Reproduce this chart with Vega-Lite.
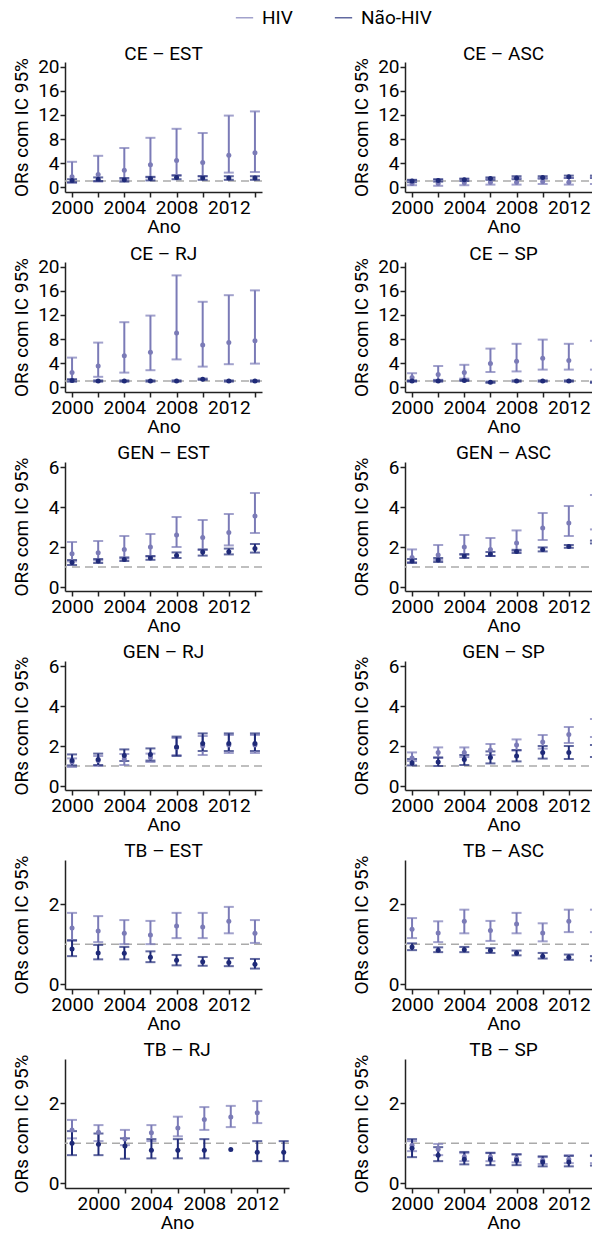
{
"$schema": "https://vega.github.io/schema/vega-lite/v6.json",
"padding": {"left": 11, "top": 8, "right": 0, "bottom": 0},
"background": "white",
"datasets": {
"ref": [{"v": 1}],
"d": [
{"p":"CE – EST","g":"HIV","ano":2000,"or":1.7,"lo":0.7,"hi":4.2},
{"p":"CE – EST","g":"HIV","ano":2002,"or":2.1,"lo":0.9,"hi":5.2},
{"p":"CE – EST","g":"HIV","ano":2004,"or":2.8,"lo":1.2,"hi":6.5},
{"p":"CE – EST","g":"HIV","ano":2006,"or":3.7,"lo":1.6,"hi":8.2},
{"p":"CE – EST","g":"HIV","ano":2008,"or":4.4,"lo":2.0,"hi":9.7},
{"p":"CE – EST","g":"HIV","ano":2010,"or":4.1,"lo":1.8,"hi":9.0},
{"p":"CE – EST","g":"HIV","ano":2012,"or":5.3,"lo":2.4,"hi":11.9},
{"p":"CE – EST","g":"HIV","ano":2014,"or":5.7,"lo":2.5,"hi":12.6},
{"p":"CE – EST","g":"Não-HIV","ano":2000,"or":1.1,"lo":0.8,"hi":1.3},
{"p":"CE – EST","g":"Não-HIV","ano":2002,"or":1.3,"lo":1.0,"hi":1.6},
{"p":"CE – EST","g":"Não-HIV","ano":2004,"or":1.2,"lo":0.9,"hi":1.5},
{"p":"CE – EST","g":"Não-HIV","ano":2006,"or":1.4,"lo":1.1,"hi":1.7},
{"p":"CE – EST","g":"Não-HIV","ano":2008,"or":1.6,"lo":1.3,"hi":1.9},
{"p":"CE – EST","g":"Não-HIV","ano":2010,"or":1.5,"lo":1.2,"hi":1.8},
{"p":"CE – EST","g":"Não-HIV","ano":2012,"or":1.5,"lo":1.2,"hi":1.8},
{"p":"CE – EST","g":"Não-HIV","ano":2014,"or":1.5,"lo":1.2,"hi":1.8},
{"p":"CE – ASC","g":"HIV","ano":2000,"or":0.6,"lo":0.3,"hi":1.1},
{"p":"CE – ASC","g":"HIV","ano":2002,"or":0.6,"lo":0.2,"hi":1.2},
{"p":"CE – ASC","g":"HIV","ano":2004,"or":0.7,"lo":0.3,"hi":1.3},
{"p":"CE – ASC","g":"HIV","ano":2006,"or":0.8,"lo":0.4,"hi":1.4},
{"p":"CE – ASC","g":"HIV","ano":2008,"or":0.8,"lo":0.4,"hi":1.5},
{"p":"CE – ASC","g":"HIV","ano":2010,"or":0.9,"lo":0.5,"hi":1.5},
{"p":"CE – ASC","g":"HIV","ano":2012,"or":0.8,"lo":0.4,"hi":1.5},
{"p":"CE – ASC","g":"HIV","ano":2014,"or":0.9,"lo":0.5,"hi":1.6},
{"p":"CE – ASC","g":"Não-HIV","ano":2000,"or":1.0,"lo":0.8,"hi":1.2},
{"p":"CE – ASC","g":"Não-HIV","ano":2002,"or":1.1,"lo":0.9,"hi":1.3},
{"p":"CE – ASC","g":"Não-HIV","ano":2004,"or":1.2,"lo":1.0,"hi":1.4},
{"p":"CE – ASC","g":"Não-HIV","ano":2006,"or":1.4,"lo":1.2,"hi":1.6},
{"p":"CE – ASC","g":"Não-HIV","ano":2008,"or":1.5,"lo":1.3,"hi":1.8},
{"p":"CE – ASC","g":"Não-HIV","ano":2010,"or":1.6,"lo":1.4,"hi":1.8},
{"p":"CE – ASC","g":"Não-HIV","ano":2012,"or":1.7,"lo":1.5,"hi":1.9},
{"p":"CE – ASC","g":"Não-HIV","ano":2014,"or":1.7,"lo":1.5,"hi":1.9},
{"p":"CE – RJ","g":"HIV","ano":2000,"or":2.4,"lo":1.2,"hi":4.9},
{"p":"CE – RJ","g":"HIV","ano":2002,"or":3.5,"lo":1.7,"hi":7.4},
{"p":"CE – RJ","g":"HIV","ano":2004,"or":5.2,"lo":2.4,"hi":10.8},
{"p":"CE – RJ","g":"HIV","ano":2006,"or":5.8,"lo":2.8,"hi":11.9},
{"p":"CE – RJ","g":"HIV","ano":2008,"or":9.0,"lo":4.6,"hi":18.6},
{"p":"CE – RJ","g":"HIV","ano":2010,"or":7.0,"lo":3.4,"hi":14.2},
{"p":"CE – RJ","g":"HIV","ano":2012,"or":7.4,"lo":3.8,"hi":15.3},
{"p":"CE – RJ","g":"HIV","ano":2014,"or":7.7,"lo":3.9,"hi":16.1},
{"p":"CE – RJ","g":"Não-HIV","ano":2000,"or":1.1,"lo":0.9,"hi":1.3},
{"p":"CE – RJ","g":"Não-HIV","ano":2002,"or":1.0,"lo":0.9,"hi":1.1},
{"p":"CE – RJ","g":"Não-HIV","ano":2004,"or":1.0,"lo":0.9,"hi":1.1},
{"p":"CE – RJ","g":"Não-HIV","ano":2006,"or":1.0,"lo":0.9,"hi":1.1},
{"p":"CE – RJ","g":"Não-HIV","ano":2008,"or":1.0,"lo":0.9,"hi":1.1},
{"p":"CE – RJ","g":"Não-HIV","ano":2010,"or":1.3,"lo":1.2,"hi":1.4},
{"p":"CE – RJ","g":"Não-HIV","ano":2012,"or":1.0,"lo":0.9,"hi":1.1},
{"p":"CE – RJ","g":"Não-HIV","ano":2014,"or":1.0,"lo":0.9,"hi":1.1},
{"p":"CE – SP","g":"HIV","ano":2000,"or":1.6,"lo":1.0,"hi":2.3},
{"p":"CE – SP","g":"HIV","ano":2002,"or":2.1,"lo":1.2,"hi":3.5},
{"p":"CE – SP","g":"HIV","ano":2004,"or":2.4,"lo":1.4,"hi":3.7},
{"p":"CE – SP","g":"HIV","ano":2006,"or":3.9,"lo":2.5,"hi":6.4},
{"p":"CE – SP","g":"HIV","ano":2008,"or":4.3,"lo":2.6,"hi":7.2},
{"p":"CE – SP","g":"HIV","ano":2010,"or":4.8,"lo":2.9,"hi":7.9},
{"p":"CE – SP","g":"HIV","ano":2012,"or":4.4,"lo":2.9,"hi":7.2},
{"p":"CE – SP","g":"HIV","ano":2014,"or":4.6,"lo":2.9,"hi":7.7},
{"p":"CE – SP","g":"Não-HIV","ano":2000,"or":1.0,"lo":0.9,"hi":1.1},
{"p":"CE – SP","g":"Não-HIV","ano":2002,"or":1.0,"lo":0.9,"hi":1.1},
{"p":"CE – SP","g":"Não-HIV","ano":2004,"or":1.1,"lo":1.0,"hi":1.2},
{"p":"CE – SP","g":"Não-HIV","ano":2006,"or":0.8,"lo":0.7,"hi":0.9},
{"p":"CE – SP","g":"Não-HIV","ano":2008,"or":1.0,"lo":0.9,"hi":1.1},
{"p":"CE – SP","g":"Não-HIV","ano":2010,"or":1.0,"lo":0.9,"hi":1.1},
{"p":"CE – SP","g":"Não-HIV","ano":2012,"or":1.0,"lo":0.9,"hi":1.1},
{"p":"CE – SP","g":"Não-HIV","ano":2014,"or":0.8,"lo":0.7,"hi":0.9},
{"p":"GEN – EST","g":"HIV","ano":2000,"or":1.66,"lo":1.28,"hi":2.25},
{"p":"GEN – EST","g":"HIV","ano":2002,"or":1.71,"lo":1.33,"hi":2.3},
{"p":"GEN – EST","g":"HIV","ano":2004,"or":1.88,"lo":1.42,"hi":2.55},
{"p":"GEN – EST","g":"HIV","ano":2006,"or":2.0,"lo":1.52,"hi":2.65},
{"p":"GEN – EST","g":"HIV","ano":2008,"or":2.6,"lo":2.0,"hi":3.5},
{"p":"GEN – EST","g":"HIV","ano":2010,"or":2.47,"lo":1.85,"hi":3.35},
{"p":"GEN – EST","g":"HIV","ano":2012,"or":2.72,"lo":2.08,"hi":3.65},
{"p":"GEN – EST","g":"HIV","ano":2014,"or":3.55,"lo":2.7,"hi":4.7},
{"p":"GEN – EST","g":"Não-HIV","ano":2000,"or":1.22,"lo":1.1,"hi":1.35},
{"p":"GEN – EST","g":"Não-HIV","ano":2002,"or":1.3,"lo":1.2,"hi":1.4},
{"p":"GEN – EST","g":"Não-HIV","ano":2004,"or":1.38,"lo":1.3,"hi":1.48},
{"p":"GEN – EST","g":"Não-HIV","ano":2006,"or":1.45,"lo":1.36,"hi":1.55},
{"p":"GEN – EST","g":"Não-HIV","ano":2008,"or":1.57,"lo":1.45,"hi":1.73},
{"p":"GEN – EST","g":"Não-HIV","ano":2010,"or":1.75,"lo":1.57,"hi":1.88},
{"p":"GEN – EST","g":"Não-HIV","ano":2012,"or":1.76,"lo":1.63,"hi":1.92},
{"p":"GEN – EST","g":"Não-HIV","ano":2014,"or":1.92,"lo":1.72,"hi":2.15},
{"p":"GEN – ASC","g":"HIV","ano":2000,"or":1.47,"lo":1.25,"hi":1.88},
{"p":"GEN – ASC","g":"HIV","ano":2002,"or":1.6,"lo":1.35,"hi":2.1},
{"p":"GEN – ASC","g":"HIV","ano":2004,"or":2.0,"lo":1.6,"hi":2.6},
{"p":"GEN – ASC","g":"HIV","ano":2006,"or":1.88,"lo":1.55,"hi":2.45},
{"p":"GEN – ASC","g":"HIV","ano":2008,"or":2.2,"lo":1.8,"hi":2.83},
{"p":"GEN – ASC","g":"HIV","ano":2010,"or":2.95,"lo":2.35,"hi":3.7},
{"p":"GEN – ASC","g":"HIV","ano":2012,"or":3.2,"lo":2.55,"hi":4.05},
{"p":"GEN – ASC","g":"HIV","ano":2014,"or":3.7,"lo":2.88,"hi":4.6},
{"p":"GEN – ASC","g":"Não-HIV","ano":2000,"or":1.3,"lo":1.2,"hi":1.4},
{"p":"GEN – ASC","g":"Não-HIV","ano":2002,"or":1.35,"lo":1.25,"hi":1.45},
{"p":"GEN – ASC","g":"Não-HIV","ano":2004,"or":1.55,"lo":1.45,"hi":1.65},
{"p":"GEN – ASC","g":"Não-HIV","ano":2006,"or":1.65,"lo":1.55,"hi":1.75},
{"p":"GEN – ASC","g":"Não-HIV","ano":2008,"or":1.78,"lo":1.7,"hi":1.86},
{"p":"GEN – ASC","g":"Não-HIV","ano":2010,"or":1.88,"lo":1.78,"hi":1.98},
{"p":"GEN – ASC","g":"Não-HIV","ano":2012,"or":2.03,"lo":1.96,"hi":2.1},
{"p":"GEN – ASC","g":"Não-HIV","ano":2014,"or":2.25,"lo":2.18,"hi":2.32},
{"p":"GEN – RJ","g":"HIV","ano":2000,"or":1.2,"lo":0.95,"hi":1.38},
{"p":"GEN – RJ","g":"HIV","ano":2002,"or":1.28,"lo":1.0,"hi":1.5},
{"p":"GEN – RJ","g":"HIV","ano":2004,"or":1.35,"lo":1.05,"hi":1.6},
{"p":"GEN – RJ","g":"HIV","ano":2006,"or":1.42,"lo":1.2,"hi":1.62},
{"p":"GEN – RJ","g":"HIV","ano":2008,"or":1.92,"lo":1.55,"hi":2.4},
{"p":"GEN – RJ","g":"HIV","ano":2010,"or":2.0,"lo":1.55,"hi":2.5},
{"p":"GEN – RJ","g":"HIV","ano":2012,"or":2.05,"lo":1.65,"hi":2.55},
{"p":"GEN – RJ","g":"HIV","ano":2014,"or":2.05,"lo":1.65,"hi":2.55},
{"p":"GEN – RJ","g":"Não-HIV","ano":2000,"or":1.27,"lo":1.03,"hi":1.58},
{"p":"GEN – RJ","g":"Não-HIV","ano":2002,"or":1.32,"lo":1.05,"hi":1.62},
{"p":"GEN – RJ","g":"Não-HIV","ano":2004,"or":1.52,"lo":1.25,"hi":1.83},
{"p":"GEN – RJ","g":"Não-HIV","ano":2006,"or":1.57,"lo":1.27,"hi":1.88},
{"p":"GEN – RJ","g":"Não-HIV","ano":2008,"or":1.95,"lo":1.5,"hi":2.47},
{"p":"GEN – RJ","g":"Não-HIV","ano":2010,"or":2.13,"lo":1.75,"hi":2.63},
{"p":"GEN – RJ","g":"Não-HIV","ano":2012,"or":2.12,"lo":1.75,"hi":2.63},
{"p":"GEN – RJ","g":"Não-HIV","ano":2014,"or":2.12,"lo":1.75,"hi":2.63},
{"p":"GEN – SP","g":"HIV","ano":2000,"or":1.4,"lo":1.25,"hi":1.68},
{"p":"GEN – SP","g":"HIV","ano":2002,"or":1.68,"lo":1.4,"hi":1.93},
{"p":"GEN – SP","g":"HIV","ano":2004,"or":1.68,"lo":1.45,"hi":1.93},
{"p":"GEN – SP","g":"HIV","ano":2006,"or":1.8,"lo":1.55,"hi":2.1},
{"p":"GEN – SP","g":"HIV","ano":2008,"or":2.05,"lo":1.77,"hi":2.33},
{"p":"GEN – SP","g":"HIV","ano":2010,"or":2.2,"lo":1.87,"hi":2.55},
{"p":"GEN – SP","g":"HIV","ano":2012,"or":2.57,"lo":2.15,"hi":2.95},
{"p":"GEN – SP","g":"HIV","ano":2014,"or":2.83,"lo":2.45,"hi":3.35},
{"p":"GEN – SP","g":"Não-HIV","ano":2000,"or":1.15,"lo":1.03,"hi":1.35},
{"p":"GEN – SP","g":"Não-HIV","ano":2002,"or":1.2,"lo":1.0,"hi":1.43},
{"p":"GEN – SP","g":"Não-HIV","ano":2004,"or":1.32,"lo":1.05,"hi":1.55},
{"p":"GEN – SP","g":"Não-HIV","ano":2006,"or":1.43,"lo":1.13,"hi":1.73},
{"p":"GEN – SP","g":"Não-HIV","ano":2008,"or":1.5,"lo":1.23,"hi":1.8},
{"p":"GEN – SP","g":"Não-HIV","ano":2010,"or":1.67,"lo":1.37,"hi":2.0},
{"p":"GEN – SP","g":"Não-HIV","ano":2012,"or":1.67,"lo":1.35,"hi":2.0},
{"p":"GEN – SP","g":"Não-HIV","ano":2014,"or":1.75,"lo":1.45,"hi":2.05},
{"p":"TB – EST","g":"HIV","ano":2000,"or":1.4,"lo":1.08,"hi":1.78},
{"p":"TB – EST","g":"HIV","ano":2002,"or":1.33,"lo":1.05,"hi":1.7},
{"p":"TB – EST","g":"HIV","ano":2004,"or":1.27,"lo":1.0,"hi":1.6},
{"p":"TB – EST","g":"HIV","ano":2006,"or":1.23,"lo":1.0,"hi":1.58},
{"p":"TB – EST","g":"HIV","ano":2008,"or":1.45,"lo":1.15,"hi":1.78},
{"p":"TB – EST","g":"HIV","ano":2010,"or":1.43,"lo":1.15,"hi":1.78},
{"p":"TB – EST","g":"HIV","ano":2012,"or":1.57,"lo":1.27,"hi":1.93},
{"p":"TB – EST","g":"HIV","ano":2014,"or":1.27,"lo":1.03,"hi":1.6},
{"p":"TB – EST","g":"Não-HIV","ano":2000,"or":0.88,"lo":0.7,"hi":1.1},
{"p":"TB – EST","g":"Não-HIV","ano":2002,"or":0.78,"lo":0.62,"hi":0.98},
{"p":"TB – EST","g":"Não-HIV","ano":2004,"or":0.77,"lo":0.62,"hi":0.93},
{"p":"TB – EST","g":"Não-HIV","ano":2006,"or":0.67,"lo":0.55,"hi":0.82},
{"p":"TB – EST","g":"Não-HIV","ano":2008,"or":0.6,"lo":0.47,"hi":0.73},
{"p":"TB – EST","g":"Não-HIV","ano":2010,"or":0.56,"lo":0.46,"hi":0.68},
{"p":"TB – EST","g":"Não-HIV","ano":2012,"or":0.54,"lo":0.45,"hi":0.65},
{"p":"TB – EST","g":"Não-HIV","ano":2014,"or":0.5,"lo":0.39,"hi":0.63},
{"p":"TB – ASC","g":"HIV","ano":2000,"or":1.37,"lo":1.15,"hi":1.65},
{"p":"TB – ASC","g":"HIV","ano":2002,"or":1.28,"lo":1.05,"hi":1.57},
{"p":"TB – ASC","g":"HIV","ano":2004,"or":1.57,"lo":1.27,"hi":1.86},
{"p":"TB – ASC","g":"HIV","ano":2006,"or":1.34,"lo":1.08,"hi":1.58},
{"p":"TB – ASC","g":"HIV","ano":2008,"or":1.5,"lo":1.27,"hi":1.78},
{"p":"TB – ASC","g":"HIV","ano":2010,"or":1.28,"lo":1.07,"hi":1.52},
{"p":"TB – ASC","g":"HIV","ano":2012,"or":1.57,"lo":1.3,"hi":1.86},
{"p":"TB – ASC","g":"HIV","ano":2014,"or":1.57,"lo":1.3,"hi":1.86},
{"p":"TB – ASC","g":"Não-HIV","ano":2000,"or":0.93,"lo":0.85,"hi":1.02},
{"p":"TB – ASC","g":"Não-HIV","ano":2002,"or":0.85,"lo":0.8,"hi":0.92},
{"p":"TB – ASC","g":"Não-HIV","ano":2004,"or":0.86,"lo":0.8,"hi":0.93},
{"p":"TB – ASC","g":"Não-HIV","ano":2006,"or":0.84,"lo":0.78,"hi":0.9},
{"p":"TB – ASC","g":"Não-HIV","ano":2008,"or":0.78,"lo":0.72,"hi":0.84},
{"p":"TB – ASC","g":"Não-HIV","ano":2010,"or":0.7,"lo":0.64,"hi":0.78},
{"p":"TB – ASC","g":"Não-HIV","ano":2012,"or":0.67,"lo":0.61,"hi":0.74},
{"p":"TB – ASC","g":"Não-HIV","ano":2014,"or":0.64,"lo":0.59,"hi":0.7},
{"p":"TB – RJ","g":"HIV","ano":1998,"or":1.33,"lo":1.12,"hi":1.58},
{"p":"TB – RJ","g":"HIV","ano":2000,"or":1.27,"lo":1.05,"hi":1.45},
{"p":"TB – RJ","g":"HIV","ano":2002,"or":1.1,"lo":0.95,"hi":1.33},
{"p":"TB – RJ","g":"HIV","ano":2004,"or":1.26,"lo":1.05,"hi":1.45},
{"p":"TB – RJ","g":"HIV","ano":2006,"or":1.38,"lo":1.17,"hi":1.66},
{"p":"TB – RJ","g":"HIV","ano":2008,"or":1.59,"lo":1.33,"hi":1.9},
{"p":"TB – RJ","g":"HIV","ano":2010,"or":1.65,"lo":1.4,"hi":1.93},
{"p":"TB – RJ","g":"HIV","ano":2012,"or":1.76,"lo":1.5,"hi":2.05},
{"p":"TB – RJ","g":"Não-HIV","ano":1998,"or":1.0,"lo":0.7,"hi":1.3},
{"p":"TB – RJ","g":"Não-HIV","ano":2000,"or":0.97,"lo":0.7,"hi":1.24},
{"p":"TB – RJ","g":"Não-HIV","ano":2002,"or":0.93,"lo":0.61,"hi":1.12},
{"p":"TB – RJ","g":"Não-HIV","ano":2004,"or":0.82,"lo":0.62,"hi":1.1},
{"p":"TB – RJ","g":"Não-HIV","ano":2006,"or":0.82,"lo":0.62,"hi":1.1},
{"p":"TB – RJ","g":"Não-HIV","ano":2008,"or":0.82,"lo":0.62,"hi":1.1},
{"p":"TB – RJ","g":"Não-HIV","ano":2010,"or":0.84,"lo":null,"hi":null},
{"p":"TB – RJ","g":"Não-HIV","ano":2012,"or":0.77,"lo":0.55,"hi":1.05},
{"p":"TB – RJ","g":"Não-HIV","ano":2014,"or":0.77,"lo":0.55,"hi":1.05},
{"p":"TB – SP","g":"HIV","ano":2000,"or":0.95,"lo":0.8,"hi":1.05},
{"p":"TB – SP","g":"HIV","ano":2002,"or":0.85,"lo":0.7,"hi":0.98},
{"p":"TB – SP","g":"HIV","ano":2004,"or":0.66,"lo":0.55,"hi":0.75},
{"p":"TB – SP","g":"HIV","ano":2006,"or":0.66,"lo":0.55,"hi":0.75},
{"p":"TB – SP","g":"HIV","ano":2008,"or":0.62,"lo":0.52,"hi":0.72},
{"p":"TB – SP","g":"HIV","ano":2010,"or":0.57,"lo":0.48,"hi":0.65},
{"p":"TB – SP","g":"HIV","ano":2012,"or":0.6,"lo":0.5,"hi":0.7},
{"p":"TB – SP","g":"HIV","ano":2014,"or":0.6,"lo":0.5,"hi":0.7},
{"p":"TB – SP","g":"Não-HIV","ano":2000,"or":0.87,"lo":0.65,"hi":1.1},
{"p":"TB – SP","g":"Não-HIV","ano":2002,"or":0.7,"lo":0.55,"hi":0.9},
{"p":"TB – SP","g":"Não-HIV","ano":2004,"or":0.6,"lo":0.47,"hi":0.78},
{"p":"TB – SP","g":"Não-HIV","ano":2006,"or":0.6,"lo":0.45,"hi":0.76},
{"p":"TB – SP","g":"Não-HIV","ano":2008,"or":0.57,"lo":0.45,"hi":0.72},
{"p":"TB – SP","g":"Não-HIV","ano":2010,"or":0.53,"lo":0.42,"hi":0.67},
{"p":"TB – SP","g":"Não-HIV","ano":2012,"or":0.53,"lo":0.42,"hi":0.68},
{"p":"TB – SP","g":"Não-HIV","ano":2014,"or":0.54,"lo":0.44,"hi":0.68}
]
},
"resolve": {"scale": {"color": "shared"}, "legend": {"color": "shared"}},
"spacing": 8,
"vconcat": [
{"spacing": 88, "hconcat": [
{"title":"CE – EST","width":197,"height":130,"layer":[
{"data":{"name":"ref"},"mark":{"type":"rule","color":"#aaaaaa","strokeDash":[8,5],"strokeWidth":1.5},"encoding":{"y":{"field":"v","type":"quantitative"}}},
{"data":{"name":"d"},"transform":[{"filter":"datum.p == 'CE – EST'"}],"mark":{"type":"errorbar","ticks":true,"size":10,"thickness":2},"encoding":{
"x":{"field":"ano","type":"quantitative","title":"Ano","scale":{"domain":[1999.46,2014.54],"nice":false,"zero":false},"axis":{"values":[2000,2002,2004,2006,2008,2010,2012,2014],"tickCount":20,"format":"d","labelExpr":"datum.value % 4 == 0 ? datum.label : ''","labelFlush":false,"labelOverlap":false}},
"y":{"field":"lo","type":"quantitative","title":"ORs com IC 95%","scale":{"domain":[-0.83,20.83],"nice":false,"zero":false},"axis":{"values":[0,4,8,12,16,20],"tickCount":20,"format":"d","labelOverlap":false}},
"y2":{"field":"hi"},
"color":{"field":"g","type":"nominal","scale":{"domain":["HIV","Não-HIV"],"range":["#7b7bb7","#1f2a78"]},"legend":{"title":null,"orient":"none","legendX":170,"legendY":-54,"direction":"horizontal","symbolType":"stroke","symbolSize":300,"symbolStrokeWidth":1.5,"labelFontSize":19,"columnPadding":38,"labelOffset":8}}}},
{"data":{"name":"d"},"transform":[{"filter":"datum.p == 'CE – EST'"}],"mark":{"type":"point","filled":true,"size":25,"opacity":1},"encoding":{
"x":{"field":"ano","type":"quantitative","title":"Ano","scale":{"domain":[1999.46,2014.54],"nice":false,"zero":false}},
"y":{"field":"or","type":"quantitative","title":"ORs com IC 95%","scale":{"domain":[-0.83,20.83],"nice":false,"zero":false}},
"color":{"field":"g","type":"nominal","legend":null}}}
]},
{"title":"CE – ASC","width":197,"height":130,"layer":[
{"data":{"name":"ref"},"mark":{"type":"rule","color":"#aaaaaa","strokeDash":[8,5],"strokeWidth":1.5},"encoding":{"y":{"field":"v","type":"quantitative"}}},
{"data":{"name":"d"},"transform":[{"filter":"datum.p == 'CE – ASC'"}],"mark":{"type":"errorbar","ticks":true,"size":10,"thickness":2},"encoding":{
"x":{"field":"ano","type":"quantitative","title":"Ano","scale":{"domain":[1999.46,2014.54],"nice":false,"zero":false},"axis":{"values":[2000,2002,2004,2006,2008,2010,2012,2014],"tickCount":20,"format":"d","labelExpr":"datum.value % 4 == 0 ? datum.label : ''","labelFlush":false,"labelOverlap":false}},
"y":{"field":"lo","type":"quantitative","title":"ORs com IC 95%","scale":{"domain":[-0.83,20.83],"nice":false,"zero":false},"axis":{"values":[0,4,8,12,16,20],"tickCount":20,"format":"d","labelOverlap":false}},
"y2":{"field":"hi"},
"color":{"field":"g","type":"nominal"}}},
{"data":{"name":"d"},"transform":[{"filter":"datum.p == 'CE – ASC'"}],"mark":{"type":"point","filled":true,"size":25,"opacity":1},"encoding":{
"x":{"field":"ano","type":"quantitative","title":"Ano","scale":{"domain":[1999.46,2014.54],"nice":false,"zero":false}},
"y":{"field":"or","type":"quantitative","title":"ORs com IC 95%","scale":{"domain":[-0.83,20.83],"nice":false,"zero":false}},
"color":{"field":"g","type":"nominal","legend":null}}}
]}
]},
{"spacing": 88, "hconcat": [
{"title":"CE – RJ","width":197,"height":130,"layer":[
{"data":{"name":"ref"},"mark":{"type":"rule","color":"#aaaaaa","strokeDash":[8,5],"strokeWidth":1.5},"encoding":{"y":{"field":"v","type":"quantitative"}}},
{"data":{"name":"d"},"transform":[{"filter":"datum.p == 'CE – RJ'"}],"mark":{"type":"errorbar","ticks":true,"size":10,"thickness":2},"encoding":{
"x":{"field":"ano","type":"quantitative","title":"Ano","scale":{"domain":[1999.46,2014.54],"nice":false,"zero":false},"axis":{"values":[2000,2002,2004,2006,2008,2010,2012,2014],"tickCount":20,"format":"d","labelExpr":"datum.value % 4 == 0 ? datum.label : ''","labelFlush":false,"labelOverlap":false}},
"y":{"field":"lo","type":"quantitative","title":"ORs com IC 95%","scale":{"domain":[-0.83,20.83],"nice":false,"zero":false},"axis":{"values":[0,4,8,12,16,20],"tickCount":20,"format":"d","labelOverlap":false}},
"y2":{"field":"hi"},
"color":{"field":"g","type":"nominal"}}},
{"data":{"name":"d"},"transform":[{"filter":"datum.p == 'CE – RJ'"}],"mark":{"type":"point","filled":true,"size":25,"opacity":1},"encoding":{
"x":{"field":"ano","type":"quantitative","title":"Ano","scale":{"domain":[1999.46,2014.54],"nice":false,"zero":false}},
"y":{"field":"or","type":"quantitative","title":"ORs com IC 95%","scale":{"domain":[-0.83,20.83],"nice":false,"zero":false}},
"color":{"field":"g","type":"nominal","legend":null}}}
]},
{"title":"CE – SP","width":197,"height":130,"layer":[
{"data":{"name":"ref"},"mark":{"type":"rule","color":"#aaaaaa","strokeDash":[8,5],"strokeWidth":1.5},"encoding":{"y":{"field":"v","type":"quantitative"}}},
{"data":{"name":"d"},"transform":[{"filter":"datum.p == 'CE – SP'"}],"mark":{"type":"errorbar","ticks":true,"size":10,"thickness":2},"encoding":{
"x":{"field":"ano","type":"quantitative","title":"Ano","scale":{"domain":[1999.46,2014.54],"nice":false,"zero":false},"axis":{"values":[2000,2002,2004,2006,2008,2010,2012,2014],"tickCount":20,"format":"d","labelExpr":"datum.value % 4 == 0 ? datum.label : ''","labelFlush":false,"labelOverlap":false}},
"y":{"field":"lo","type":"quantitative","title":"ORs com IC 95%","scale":{"domain":[-0.83,20.83],"nice":false,"zero":false},"axis":{"values":[0,4,8,12,16,20],"tickCount":20,"format":"d","labelOverlap":false}},
"y2":{"field":"hi"},
"color":{"field":"g","type":"nominal"}}},
{"data":{"name":"d"},"transform":[{"filter":"datum.p == 'CE – SP'"}],"mark":{"type":"point","filled":true,"size":25,"opacity":1},"encoding":{
"x":{"field":"ano","type":"quantitative","title":"Ano","scale":{"domain":[1999.46,2014.54],"nice":false,"zero":false}},
"y":{"field":"or","type":"quantitative","title":"ORs com IC 95%","scale":{"domain":[-0.83,20.83],"nice":false,"zero":false}},
"color":{"field":"g","type":"nominal","legend":null}}}
]}
]},
{"spacing": 88, "hconcat": [
{"title":"GEN – EST","width":197,"height":129,"layer":[
{"data":{"name":"ref"},"mark":{"type":"rule","color":"#aaaaaa","strokeDash":[8,5],"strokeWidth":1.5},"encoding":{"y":{"field":"v","type":"quantitative"}}},
{"data":{"name":"d"},"transform":[{"filter":"datum.p == 'GEN – EST'"}],"mark":{"type":"errorbar","ticks":true,"size":10,"thickness":2},"encoding":{
"x":{"field":"ano","type":"quantitative","title":"Ano","scale":{"domain":[1999.46,2014.54],"nice":false,"zero":false},"axis":{"values":[2000,2002,2004,2006,2008,2010,2012,2014],"tickCount":20,"format":"d","labelExpr":"datum.value % 4 == 0 ? datum.label : ''","labelFlush":false,"labelOverlap":false}},
"y":{"field":"lo","type":"quantitative","title":"ORs com IC 95%","scale":{"domain":[-0.2,6.25],"nice":false,"zero":false},"axis":{"values":[0,2,4,6],"tickCount":20,"format":"d","labelOverlap":false}},
"y2":{"field":"hi"},
"color":{"field":"g","type":"nominal"}}},
{"data":{"name":"d"},"transform":[{"filter":"datum.p == 'GEN – EST'"}],"mark":{"type":"point","filled":true,"size":25,"opacity":1},"encoding":{
"x":{"field":"ano","type":"quantitative","title":"Ano","scale":{"domain":[1999.46,2014.54],"nice":false,"zero":false}},
"y":{"field":"or","type":"quantitative","title":"ORs com IC 95%","scale":{"domain":[-0.2,6.25],"nice":false,"zero":false}},
"color":{"field":"g","type":"nominal","legend":null}}}
]},
{"title":"GEN – ASC","width":197,"height":129,"layer":[
{"data":{"name":"ref"},"mark":{"type":"rule","color":"#aaaaaa","strokeDash":[8,5],"strokeWidth":1.5},"encoding":{"y":{"field":"v","type":"quantitative"}}},
{"data":{"name":"d"},"transform":[{"filter":"datum.p == 'GEN – ASC'"}],"mark":{"type":"errorbar","ticks":true,"size":10,"thickness":2},"encoding":{
"x":{"field":"ano","type":"quantitative","title":"Ano","scale":{"domain":[1999.46,2014.54],"nice":false,"zero":false},"axis":{"values":[2000,2002,2004,2006,2008,2010,2012,2014],"tickCount":20,"format":"d","labelExpr":"datum.value % 4 == 0 ? datum.label : ''","labelFlush":false,"labelOverlap":false}},
"y":{"field":"lo","type":"quantitative","title":"ORs com IC 95%","scale":{"domain":[-0.2,6.25],"nice":false,"zero":false},"axis":{"values":[0,2,4,6],"tickCount":20,"format":"d","labelOverlap":false}},
"y2":{"field":"hi"},
"color":{"field":"g","type":"nominal"}}},
{"data":{"name":"d"},"transform":[{"filter":"datum.p == 'GEN – ASC'"}],"mark":{"type":"point","filled":true,"size":25,"opacity":1},"encoding":{
"x":{"field":"ano","type":"quantitative","title":"Ano","scale":{"domain":[1999.46,2014.54],"nice":false,"zero":false}},
"y":{"field":"or","type":"quantitative","title":"ORs com IC 95%","scale":{"domain":[-0.2,6.25],"nice":false,"zero":false}},
"color":{"field":"g","type":"nominal","legend":null}}}
]}
]},
{"spacing": 88, "hconcat": [
{"title":"GEN – RJ","width":197,"height":129,"layer":[
{"data":{"name":"ref"},"mark":{"type":"rule","color":"#aaaaaa","strokeDash":[8,5],"strokeWidth":1.5},"encoding":{"y":{"field":"v","type":"quantitative"}}},
{"data":{"name":"d"},"transform":[{"filter":"datum.p == 'GEN – RJ'"}],"mark":{"type":"errorbar","ticks":true,"size":10,"thickness":2},"encoding":{
"x":{"field":"ano","type":"quantitative","title":"Ano","scale":{"domain":[1999.46,2014.54],"nice":false,"zero":false},"axis":{"values":[2000,2002,2004,2006,2008,2010,2012,2014],"tickCount":20,"format":"d","labelExpr":"datum.value % 4 == 0 ? datum.label : ''","labelFlush":false,"labelOverlap":false}},
"y":{"field":"lo","type":"quantitative","title":"ORs com IC 95%","scale":{"domain":[-0.2,6.25],"nice":false,"zero":false},"axis":{"values":[0,2,4,6],"tickCount":20,"format":"d","labelOverlap":false}},
"y2":{"field":"hi"},
"color":{"field":"g","type":"nominal"}}},
{"data":{"name":"d"},"transform":[{"filter":"datum.p == 'GEN – RJ'"}],"mark":{"type":"point","filled":true,"size":25,"opacity":1},"encoding":{
"x":{"field":"ano","type":"quantitative","title":"Ano","scale":{"domain":[1999.46,2014.54],"nice":false,"zero":false}},
"y":{"field":"or","type":"quantitative","title":"ORs com IC 95%","scale":{"domain":[-0.2,6.25],"nice":false,"zero":false}},
"color":{"field":"g","type":"nominal","legend":null}}}
]},
{"title":"GEN – SP","width":197,"height":129,"layer":[
{"data":{"name":"ref"},"mark":{"type":"rule","color":"#aaaaaa","strokeDash":[8,5],"strokeWidth":1.5},"encoding":{"y":{"field":"v","type":"quantitative"}}},
{"data":{"name":"d"},"transform":[{"filter":"datum.p == 'GEN – SP'"}],"mark":{"type":"errorbar","ticks":true,"size":10,"thickness":2},"encoding":{
"x":{"field":"ano","type":"quantitative","title":"Ano","scale":{"domain":[1999.46,2014.54],"nice":false,"zero":false},"axis":{"values":[2000,2002,2004,2006,2008,2010,2012,2014],"tickCount":20,"format":"d","labelExpr":"datum.value % 4 == 0 ? datum.label : ''","labelFlush":false,"labelOverlap":false}},
"y":{"field":"lo","type":"quantitative","title":"ORs com IC 95%","scale":{"domain":[-0.2,6.25],"nice":false,"zero":false},"axis":{"values":[0,2,4,6],"tickCount":20,"format":"d","labelOverlap":false}},
"y2":{"field":"hi"},
"color":{"field":"g","type":"nominal"}}},
{"data":{"name":"d"},"transform":[{"filter":"datum.p == 'GEN – SP'"}],"mark":{"type":"point","filled":true,"size":25,"opacity":1},"encoding":{
"x":{"field":"ano","type":"quantitative","title":"Ano","scale":{"domain":[1999.46,2014.54],"nice":false,"zero":false}},
"y":{"field":"or","type":"quantitative","title":"ORs com IC 95%","scale":{"domain":[-0.2,6.25],"nice":false,"zero":false}},
"color":{"field":"g","type":"nominal","legend":null}}}
]}
]},
{"spacing": 88, "hconcat": [
{"title":"TB – EST","width":197,"height":129,"layer":[
{"data":{"name":"ref"},"mark":{"type":"rule","color":"#aaaaaa","strokeDash":[8,5],"strokeWidth":1.5},"encoding":{"y":{"field":"v","type":"quantitative"}}},
{"data":{"name":"d"},"transform":[{"filter":"datum.p == 'TB – EST'"}],"mark":{"type":"errorbar","ticks":true,"size":10,"thickness":2},"encoding":{
"x":{"field":"ano","type":"quantitative","title":"Ano","scale":{"domain":[1999.46,2014.54],"nice":false,"zero":false},"axis":{"values":[2000,2002,2004,2006,2008,2010,2012,2014],"tickCount":20,"format":"d","labelExpr":"datum.value % 4 == 0 ? datum.label : ''","labelFlush":false,"labelOverlap":false}},
"y":{"field":"lo","type":"quantitative","title":"ORs com IC 95%","scale":{"domain":[-0.12,3.1],"nice":false,"zero":false},"axis":{"values":[0,2],"tickCount":20,"format":"d","labelOverlap":false}},
"y2":{"field":"hi"},
"color":{"field":"g","type":"nominal"}}},
{"data":{"name":"d"},"transform":[{"filter":"datum.p == 'TB – EST'"}],"mark":{"type":"point","filled":true,"size":25,"opacity":1},"encoding":{
"x":{"field":"ano","type":"quantitative","title":"Ano","scale":{"domain":[1999.46,2014.54],"nice":false,"zero":false}},
"y":{"field":"or","type":"quantitative","title":"ORs com IC 95%","scale":{"domain":[-0.12,3.1],"nice":false,"zero":false}},
"color":{"field":"g","type":"nominal","legend":null}}}
]},
{"title":"TB – ASC","width":197,"height":129,"layer":[
{"data":{"name":"ref"},"mark":{"type":"rule","color":"#aaaaaa","strokeDash":[8,5],"strokeWidth":1.5},"encoding":{"y":{"field":"v","type":"quantitative"}}},
{"data":{"name":"d"},"transform":[{"filter":"datum.p == 'TB – ASC'"}],"mark":{"type":"errorbar","ticks":true,"size":10,"thickness":2},"encoding":{
"x":{"field":"ano","type":"quantitative","title":"Ano","scale":{"domain":[1999.46,2014.54],"nice":false,"zero":false},"axis":{"values":[2000,2002,2004,2006,2008,2010,2012,2014],"tickCount":20,"format":"d","labelExpr":"datum.value % 4 == 0 ? datum.label : ''","labelFlush":false,"labelOverlap":false}},
"y":{"field":"lo","type":"quantitative","title":"ORs com IC 95%","scale":{"domain":[-0.12,3.1],"nice":false,"zero":false},"axis":{"values":[0,2],"tickCount":20,"format":"d","labelOverlap":false}},
"y2":{"field":"hi"},
"color":{"field":"g","type":"nominal"}}},
{"data":{"name":"d"},"transform":[{"filter":"datum.p == 'TB – ASC'"}],"mark":{"type":"point","filled":true,"size":25,"opacity":1},"encoding":{
"x":{"field":"ano","type":"quantitative","title":"Ano","scale":{"domain":[1999.46,2014.54],"nice":false,"zero":false}},
"y":{"field":"or","type":"quantitative","title":"ORs com IC 95%","scale":{"domain":[-0.12,3.1],"nice":false,"zero":false}},
"color":{"field":"g","type":"nominal","legend":null}}}
]}
]},
{"spacing": 61, "hconcat": [
{"title":"TB – RJ","width":224,"height":129,"layer":[
{"data":{"name":"ref"},"mark":{"type":"rule","color":"#aaaaaa","strokeDash":[8,5],"strokeWidth":1.5},"encoding":{"y":{"field":"v","type":"quantitative"}}},
{"data":{"name":"d"},"transform":[{"filter":"datum.p == 'TB – RJ'"}],"mark":{"type":"errorbar","ticks":true,"size":10,"thickness":2},"encoding":{
"x":{"field":"ano","type":"quantitative","title":"Ano","scale":{"domain":[1997.47,2014.4],"nice":false,"zero":false},"axis":{"values":[2000,2002,2004,2006,2008,2010,2012,2014],"tickCount":20,"format":"d","labelExpr":"datum.value % 4 == 0 ? datum.label : ''","labelFlush":false,"labelOverlap":false}},
"y":{"field":"lo","type":"quantitative","title":"ORs com IC 95%","scale":{"domain":[-0.12,3.1],"nice":false,"zero":false},"axis":{"values":[0,2],"tickCount":20,"format":"d","labelOverlap":false}},
"y2":{"field":"hi"},
"color":{"field":"g","type":"nominal"}}},
{"data":{"name":"d"},"transform":[{"filter":"datum.p == 'TB – RJ'"}],"mark":{"type":"point","filled":true,"size":25,"opacity":1},"encoding":{
"x":{"field":"ano","type":"quantitative","title":"Ano","scale":{"domain":[1997.47,2014.4],"nice":false,"zero":false}},
"y":{"field":"or","type":"quantitative","title":"ORs com IC 95%","scale":{"domain":[-0.12,3.1],"nice":false,"zero":false}},
"color":{"field":"g","type":"nominal","legend":null}}}
]},
{"title":"TB – SP","width":197,"height":129,"layer":[
{"data":{"name":"ref"},"mark":{"type":"rule","color":"#aaaaaa","strokeDash":[8,5],"strokeWidth":1.5},"encoding":{"y":{"field":"v","type":"quantitative"}}},
{"data":{"name":"d"},"transform":[{"filter":"datum.p == 'TB – SP'"}],"mark":{"type":"errorbar","ticks":true,"size":10,"thickness":2},"encoding":{
"x":{"field":"ano","type":"quantitative","title":"Ano","scale":{"domain":[1999.46,2014.54],"nice":false,"zero":false},"axis":{"values":[2000,2002,2004,2006,2008,2010,2012,2014],"tickCount":20,"format":"d","labelExpr":"datum.value % 4 == 0 ? datum.label : ''","labelFlush":false,"labelOverlap":false}},
"y":{"field":"lo","type":"quantitative","title":"ORs com IC 95%","scale":{"domain":[-0.12,3.1],"nice":false,"zero":false},"axis":{"values":[0,2],"tickCount":20,"format":"d","labelOverlap":false}},
"y2":{"field":"hi"},
"color":{"field":"g","type":"nominal"}}},
{"data":{"name":"d"},"transform":[{"filter":"datum.p == 'TB – SP'"}],"mark":{"type":"point","filled":true,"size":25,"opacity":1},"encoding":{
"x":{"field":"ano","type":"quantitative","title":"Ano","scale":{"domain":[1999.46,2014.54],"nice":false,"zero":false}},
"y":{"field":"or","type":"quantitative","title":"ORs com IC 95%","scale":{"domain":[-0.12,3.1],"nice":false,"zero":false}},
"color":{"field":"g","type":"nominal","legend":null}}}
]}
]}
],
"config": {
"font": "Roboto",
"view": {"stroke": null},
"axis": {"grid": false, "labelOverlap": false, "tickCount": 20, "domainColor": "#222222", "tickColor": "#222222", "labelColor": "#000000", "titleColor": "#000000", "labelFontSize": 19, "titleFontSize": 19, "titleFontWeight": "normal", "tickSize": 5, "domainWidth": 1.5, "tickWidth": 1.5, "labelPadding": 1},
"axisY": {"minExtent": 30, "maxExtent": 30, "titlePadding": 4},
"axisX": {"titlePadding": 0},
"title": {"fontSize": 19, "fontWeight": "normal", "offset": -6, "anchor": "middle", "color": "#000000"},
"legend": {"labelFont": "Roboto", "labelColor": "#000000"}
}
}
